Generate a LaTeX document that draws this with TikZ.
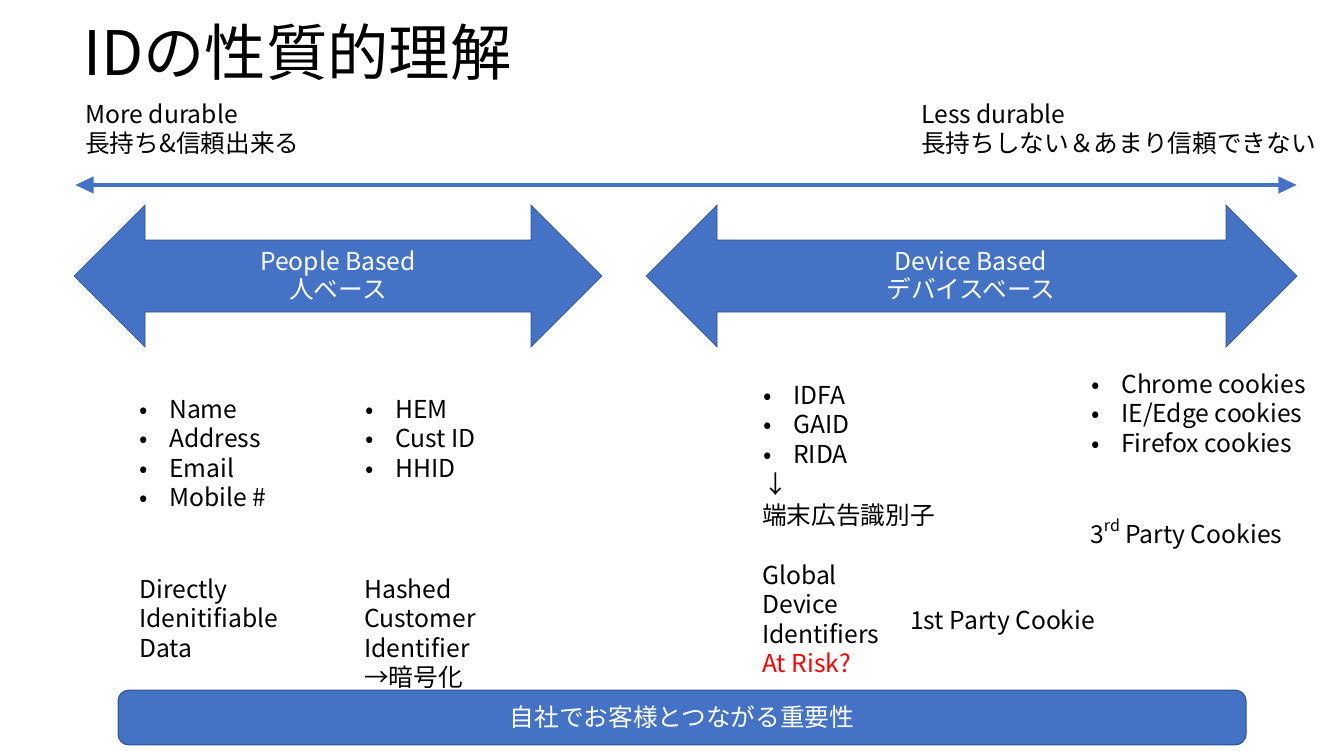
\documentclass[tikz,border=0pt]{standalone}
\usepackage{fontspec}
\setmainfont{Noto Sans CJK JP}
\usetikzlibrary{arrows.meta}
\definecolor{pblue}{HTML}{4472C4}
\definecolor{pedge}{HTML}{2F528F}
\definecolor{riskred}{HTML}{FF0000}
\tikzset{
  txt/.style={anchor=base west,inner sep=0pt,font=\fontsize{18.5}{22}\selectfont},
  ctxt/.style={anchor=base,inner sep=0pt,text=white,font=\fontsize{18.5}{22}\selectfont},
  bigarrow/.style={fill=pblue,draw=pedge,line width=0.5pt,line join=miter},
}
\newcommand{\bul}{\makebox[22.5pt][l]{•}}
\begin{document}
\begin{tikzpicture}[x=0.75pt,y=-0.75pt]
\useasboundingbox (0,0) rectangle (1333,750);
% title
\node[anchor=base west,inner sep=0pt,font=\fontsize{46}{50}\selectfont] (title) at (83,75) {IDの性質的理解};
% durability labels
\node[txt] (more1) at (85,123) {More durable};
\node[txt] (more2) at (85,152) {長持ち\&信頼出来る};
\node[txt] (less1) at (921,123) {Less durable};
\node[txt] (less2) at (921,152) {長持ちしない＆あまり信頼できない};
% thin double arrow
\coordinate (tl) at (75,185);
\coordinate (tr) at (1297,185);
\draw[pblue,line width=3pt,{Triangle[length=14pt,width=12pt]}-{Triangle[length=14pt,width=12pt]}] (tl) -- (tr);
% big arrows
\draw[bigarrow] (74,276) -- (145,205) -- (145,240) -- (531,240) -- (531,205) -- (602,276)
  -- (531,347) -- (531,312) -- (145,312) -- (145,347) -- cycle;
\draw[bigarrow] (646,276) -- (717,205) -- (717,240) -- (1226,240) -- (1226,205) -- (1297,276)
  -- (1226,347) -- (1226,312) -- (717,312) -- (717,347) -- cycle;
\node[ctxt] (pb1) at (338,270) {People Based};
\node[ctxt] (pb2) at (338,298) {人ベース};
\node[ctxt] (db1) at (971,270) {Device Based};
\node[ctxt] (db2) at (971,298) {デバイスベース};
% people based lists
\node[txt] (n1) at (139,418) {\bul Name};
\node[txt] (n2) at (139,447.5) {\bul Address};
\node[txt] (n3) at (139,477) {\bul Email};
\node[txt] (n4) at (139,506.5) {\bul Mobile \#};
\node[txt] (h1) at (365,418) {\bul HEM};
\node[txt] (h2) at (365,447.5) {\bul Cust ID};
\node[txt] (h3) at (365,477) {\bul HHID};
\node[txt] (d1) at (139,598) {Directly};
\node[txt] (d2) at (139,627.5) {Idenitifiable};
\node[txt] (d3) at (139,657) {Data};
\node[txt] (c1) at (364,598) {Hashed};
\node[txt] (c2) at (364,627.5) {Customer};
\node[txt] (c3) at (364,657) {Identifier};
\node[txt] (c4) at (364,686.5) {→暗号化};
% device based lists
\node[txt] (i1) at (763,404) {\bul IDFA};
\node[txt] (i2) at (763,433.5) {\bul GAID};
\node[txt] (i3) at (763,463) {\bul RIDA};
\node[txt] (i4) at (763,493) {↓};
\node[txt] (i5) at (762,524) {端末広告識別子};
\node[txt] (g1) at (762,584) {Global};
\node[txt] (g2) at (762,613.5) {Device};
\node[txt] (g3) at (762,643) {Identifiers};
\node[txt,text=riskred] (g4) at (762,672.5) {At Risk?};
\node[txt] (fp) at (910,629) {1st Party Cookie};
\node[txt] (k1) at (1091,393) {\bul Chrome cookies};
\node[txt] (k2) at (1091,422.5) {\bul IE/Edge cookies};
\node[txt] (k3) at (1091,452) {\bul Firefox cookies};
\node[txt] (tp) at (1090,543) {3\raisebox{0.45em}{\fontsize{12}{12}\selectfont rd} Party Cookies};
% bottom bar
\node[rectangle,rounded corners=8pt,fill=pblue,draw=pedge,line width=0.75pt,
  minimum width=846pt,minimum height=41pt,inner sep=0pt,text=white,
  font=\fontsize{18.5}{22}\selectfont] (bar) at (682,717.5) {自社でお客様とつながる重要性};
\end{tikzpicture}
\end{document}
